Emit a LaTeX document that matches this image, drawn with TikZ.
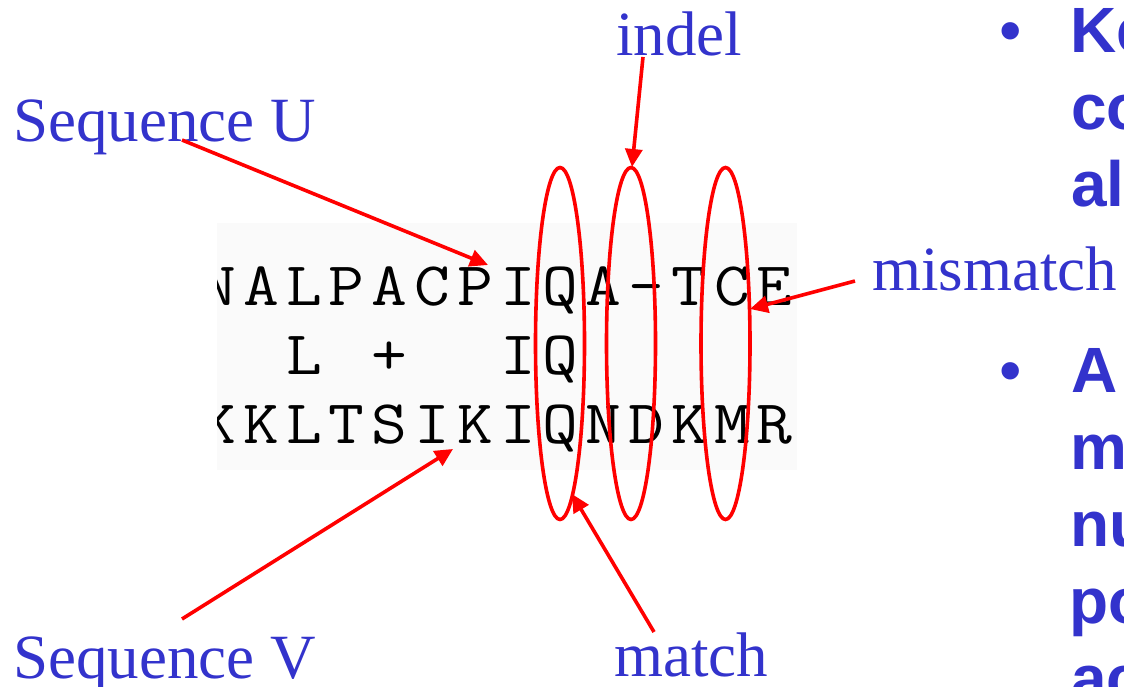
\documentclass[tikz,border=0pt]{standalone}
\usepackage{fontspec}
\setmainfont{Liberation Serif}
\newfontfamily\boldsans[BoldFont={Liberation Sans Bold}]{Liberation Sans}
\usetikzlibrary{arrows.meta,shapes.geometric}
\definecolor{lblblue}{RGB}{51,51,204}
\definecolor{seqbg}{RGB}{250,250,250}
\tikzset{
  lbl/.style={inner sep=0pt, anchor=base west, text=lblblue, font=\fontsize{63}{75}\selectfont},
  bul/.style={inner sep=0pt, anchor=base west, text=lblblue, font=\boldsans\bfseries\fontsize{64}{77}\selectfont},
  dot/.style={inner sep=0pt, anchor=base, text=lblblue, font=\boldsans\fontsize{64}{77}\selectfont},
  res/.style={inner sep=0pt, anchor=base, font=\ttfamily\fontsize{62}{70}\selectfont, xscale=1.12},
  ring/.style={ellipse, draw=red, line width=3.6pt, minimum width=49pt, minimum height=352pt, inner sep=0pt},
  arr/.style={draw=red, line width=3.6pt, -{Triangle[length=18pt,width=17pt]}}
}
\begin{document}
\begin{tikzpicture}[x=1pt,y=-1pt]
\useasboundingbox (0,0) rectangle (1124,687);
\clip (0,0) rectangle (1124,687);

% sequence picture
\begin{scope}
  \clip (217,223) rectangle (797,470);
  \fill[seqbg] (217,223) rectangle (797,470);
  \foreach \c [count=\i from 0] in {N,A,L,P,A,C,P,I,Q,A,-,T,C,E}
    \node[res] (r1-\i) at ({518+(\i-7)*42.8},305) {\c};
  \node[res] (r2-2) at ({518+(2-7)*42.8},374) {L};
  \node[res] (r2-4) at ({518+(4-7)*42.8},374) {+};
  \node[res] (r2-7) at ({518+(7-7)*42.8},374) {I};
  \node[res] (r2-8) at ({518+(8-7)*42.8},374) {Q};
  \foreach \c [count=\i from 0] in {K,K,L,T,S,I,K,I,Q,N,D,K,M,R}
    \node[res] (r3-\i) at ({518+(\i-7)*42.8},443) {\c};
\end{scope}

% ellipses
\node[ring] (e1) at (560,343.5) {};
\node[ring] (e2) at (631,343.5) {};
\node[ring] (e3) at (725.5,343.5) {};

% labels
\node[lbl] (seqU) at (13,142) {Sequence U};
\node[lbl] (seqV) at (13,678) {Sequence V};
\node[lbl] (indel) at (616,56) {indel};
\node[lbl] (match) at (614,676) {match};
\node[lbl] (mism) at (872,290) {mismatch};

% arrow anchor points
\coordinate (uS) at (182,140);
\coordinate (uE) at (488,265);
\coordinate (vS) at (182,619);
\coordinate (vE) at (453,449);
\coordinate (iS) at (643,57);
\coordinate (iE) at (632,167);
\coordinate (mS) at (654,632);
\coordinate (mE) at (572,494);
\coordinate (xS) at (855,281);
\coordinate (xE) at (750,309);

\draw[arr] (uS) -- (uE);
\draw[arr] (vS) -- (vE);
\draw[arr] (iS) -- (iE);
\draw[arr] (mS) -- (mE);
\draw[arr] (xS) -- (xE);

% bullet text on the right (cut by the frame)
\node[dot] (b1) at (1011,53) {•};
\node[bul] (t1) at (1070,53) {Ke};
\node[bul] (t2) at (1071,130) {co};
\node[bul] (t3) at (1071,207) {al};
\node[dot] (b2) at (1011,392) {•};
\node[bul] (t4) at (1071,392) {A};
\node[bul] (t5) at (1070,469) {m};
\node[bul] (t6) at (1070,546) {nu};
\node[bul] (t7) at (1069,623) {po};
\node[bul] (t8) at (1071,700) {ac};
\end{tikzpicture}
\end{document}
